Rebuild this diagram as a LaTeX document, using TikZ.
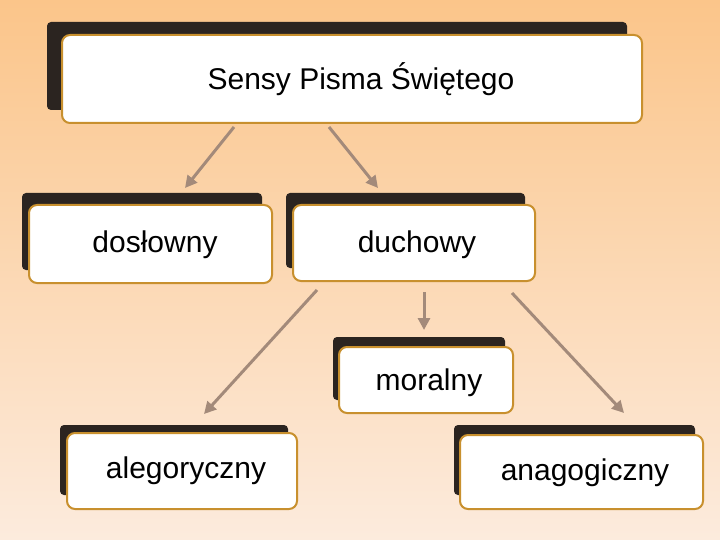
\documentclass[tikz,border=0pt]{standalone}
\usepackage{fontspec}
\setmainfont{Liberation Sans}
\usetikzlibrary{arrows.meta}
\definecolor{bgtop}{HTML}{FBC58A}
\definecolor{bgbot}{HTML}{FCEBDD}
\definecolor{shad}{HTML}{2B2420}
\definecolor{bord}{HTML}{C8902E}
\definecolor{arr}{HTML}{A38A7A}
\tikzset{
  shadowbox/.style={fill=shad,rounded corners=4pt},
  box/.style={draw=bord,line width=2pt,fill=white,rounded corners=8pt,inner sep=0pt},
  lbl/.style={font=\fontsize{30}{34}\selectfont},
  conn/.style={draw=arr,line width=3pt,-{Triangle[length=12pt,width=12pt]}},
}
\begin{document}
\begin{tikzpicture}[x=1pt,y=-1pt]
\shade[top color=bgtop,bottom color=bgbot] (0,0) rectangle (720,540);
\useasboundingbox (0,0) rectangle (720,540);
\fill[shadowbox] (47,22) rectangle (627,110);
\fill[shadowbox] (22,193) rectangle (262,270);
\fill[shadowbox] (286,193) rectangle (525,268);
\fill[shadowbox] (333,337) rectangle (505,400);
\fill[shadowbox] (60,425) rectangle (288,495);
\fill[shadowbox] (454,425) rectangle (695,495);
\node[box,minimum width=580pt,minimum height=88pt] (t) at (352,79) {};
\node[lbl] (tt) at (361,79) {Sensy Pisma Świętego};
\node[box,minimum width=243pt,minimum height=78pt] (d) at (150.5,244) {};
\node[lbl] (dt) at (155,245) {dosłowny};
\node[box,minimum width=242pt,minimum height=76pt] (u) at (414,243) {};
\node[lbl] (ut) at (417,245) {duchowy};
\node[box,minimum width=174pt,minimum height=66pt] (m) at (426,380) {};
\node[lbl] (mt) at (429,383) {moralny};
\node[box,minimum width=230pt,minimum height=76pt] (a) at (182,471) {};
\node[lbl] (at) at (186,471) {alegoryczny};
\node[box,minimum width=243pt,minimum height=74pt] (g) at (581.5,472) {};
\node[lbl] (gt) at (585,473) {anagogiczny};
\coordinate (a1s) at (234,127); \coordinate (a1e) at (185,188);
\coordinate (a2s) at (329,127); \coordinate (a2e) at (378,188);
\coordinate (a3s) at (317,290); \coordinate (a3e) at (204,414);
\coordinate (a4s) at (424,292); \coordinate (a4e) at (424,330);
\coordinate (a5s) at (512,293); \coordinate (a5e) at (624,413);
\draw[conn] (a1s) -- (a1e);
\draw[conn] (a2s) -- (a2e);
\draw[conn] (a3s) -- (a3e);
\draw[conn] (a4s) -- (a4e);
\draw[conn] (a5s) -- (a5e);
\end{tikzpicture}
\end{document}
